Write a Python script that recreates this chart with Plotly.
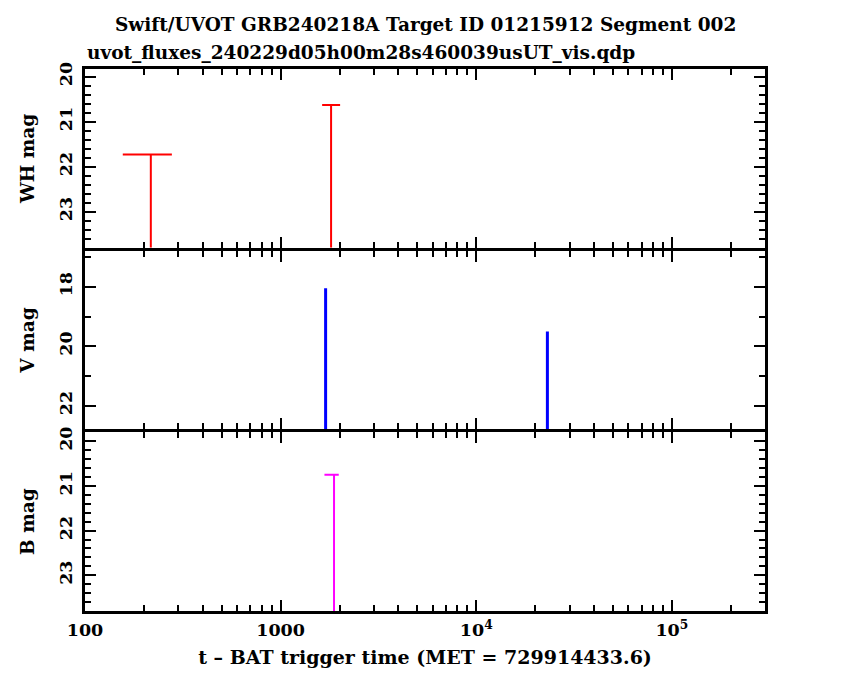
import plotly.graph_objects as go

# ---- data ----
wh_t = [217, 1811]
wh_tlo = [156, 1630]
wh_thi = [278, 2014]
wh_mag = [21.73, 20.63]

v_t = [1698, 23100]
v_tlo = [1698, 23100]
v_thi = [1698, 23100]
v_mag = [18.05, 19.5]

b_t = [1875]
b_tlo = [1675]
b_thi = [1982]
b_mag = [20.75]

x_ticks = [100, 1000, 1e4, 1e5]
x_ticktext = ["100", "1000", "10<sup>4</sup>", "10<sup>5</sup>"]

wh_range = [23.8, 19.83]
v_range = [22.8, 16.78]
b_range = [23.8, 19.8]

TITLE = "Swift/UVOT GRB240218A Target ID 01215912 Segment 002"
SUBTITLE = "uvot_fluxes_240229d05h00m28s460039usUT_vis.qdp"
XTITLE = "t \u2013 BAT trigger time (MET = 729914433.6)"

FONT = "DejaVu Serif"


def segments(t, tlo, thi, mag, bottom):
    xs, ys = [], []
    for ti, lo, hi, m in zip(t, tlo, thi, mag):
        xs += [ti, ti, None, lo, hi, None]
        ys += [m, bottom, None, m, m, None]
    return xs, ys


fig = go.Figure()

for (t, lo, hi, m, rng, color, width, ax) in [
    (wh_t, wh_tlo, wh_thi, wh_mag, wh_range, "#ff0000", 2, ("x", "y")),
    (v_t, v_tlo, v_thi, v_mag, v_range, "#0000ff", 3, ("x2", "y2")),
    (b_t, b_tlo, b_thi, b_mag, b_range, "#ff00ff", 2, ("x3", "y3")),
]:
    xs, ys = segments(t, lo, hi, m, rng[0])
    fig.add_trace(go.Scatter(x=xs, y=ys, mode="lines",
                             line=dict(color=color, width=width),
                             xaxis=ax[0], yaxis=ax[1], showlegend=False,
                             hoverinfo="skip"))

minor_x = []
for dec in [100, 1000, 1e4, 1e5]:
    for k in range(2, 10):
        v = k * dec
        if v <= 3e5:
            minor_x.append(v)

tickfont = dict(family=FONT, size=17.5, color="black", weight="bold")

xcommon = dict(type="log", range=[2, 5.476], showline=True, linewidth=3,
               linecolor="black", mirror="ticks", ticks="inside", ticklen=11,
               tickwidth=2, tickcolor="black", tickmode="array",
               tickvals=x_ticks, ticktext=x_ticktext, showgrid=False,
               zeroline=False, tickfont=tickfont, ticklabelstandoff=1,
               minor=dict(tickmode="array", tickvals=minor_x, ticks="inside",
                          ticklen=6, tickwidth=2, tickcolor="black",
                          showgrid=False))

ycommon = dict(showline=True, linewidth=3, linecolor="black", mirror="ticks",
               ticks="inside", ticklen=11, tickwidth=2, tickcolor="black",
               showgrid=False, zeroline=False, tickangle=-90,
               tickfont=tickfont, tickmode="linear", ticklabelstandoff=3)

ytitlefont = dict(family=FONT, size=18.5, color="black", weight="bold")

tot = 542.0
gap = 3.0 / tot
h = (1.0 - 2 * gap) / 3.0
d3 = [0.0, h]
d2 = [h + gap, 2 * h + gap]
d1 = [2 * h + 2 * gap, 1.0]

fig.update_layout(
    width=850, height=680,
    margin=dict(l=77, r=93, t=61, b=77),
    paper_bgcolor="white", plot_bgcolor="white",
    font=dict(family=FONT, size=17, color="black", weight="bold"),
    xaxis=dict(xcommon, domain=[0, 1], anchor="y", showticklabels=False),
    xaxis2=dict(xcommon, domain=[0, 1], anchor="y2", showticklabels=False,
                matches="x"),
    xaxis3=dict(xcommon, domain=[0, 1], anchor="y3", matches="x",
                title=dict(text=XTITLE, font=dict(family=FONT, size=19,
                                                   weight="bold"),
                           standoff=12)),
    yaxis=dict(ycommon, domain=d1, anchor="x", range=wh_range, tick0=20,
               dtick=1,
               minor=dict(dtick=0.2, tick0=20, ticks="inside", ticklen=6,
                          tickwidth=2, tickcolor="black", showgrid=False),
               title=dict(text="WH mag", standoff=17, font=ytitlefont)),
    yaxis2=dict(ycommon, domain=d2, anchor="x2", range=v_range, tick0=18,
                dtick=2,
                minor=dict(dtick=1, tick0=18, ticks="inside", ticklen=6,
                           tickwidth=2, tickcolor="black", showgrid=False),
                title=dict(text="V mag", standoff=17, font=ytitlefont)),
    yaxis3=dict(ycommon, domain=d3, anchor="x3", range=b_range, tick0=20,
                dtick=1,
                minor=dict(dtick=0.2, tick0=20, ticks="inside", ticklen=6,
                           tickwidth=2, tickcolor="black", showgrid=False),
                title=dict(text="B mag", standoff=17, font=ytitlefont)),
    annotations=[
        dict(text=TITLE, xref="paper", yref="paper", x=0.5, y=1.0,
             xanchor="center", yanchor="bottom", yshift=32, showarrow=False,
             font=dict(family=FONT, size=18.5, weight="bold")),
        dict(text=SUBTITLE, xref="paper", yref="paper", x=0.0, y=1.0,
             xanchor="left", yanchor="bottom", yshift=4, showarrow=False,
             font=dict(family=FONT, size=18.5, weight="bold")),
    ],
)

fig.write_html("out.html")
